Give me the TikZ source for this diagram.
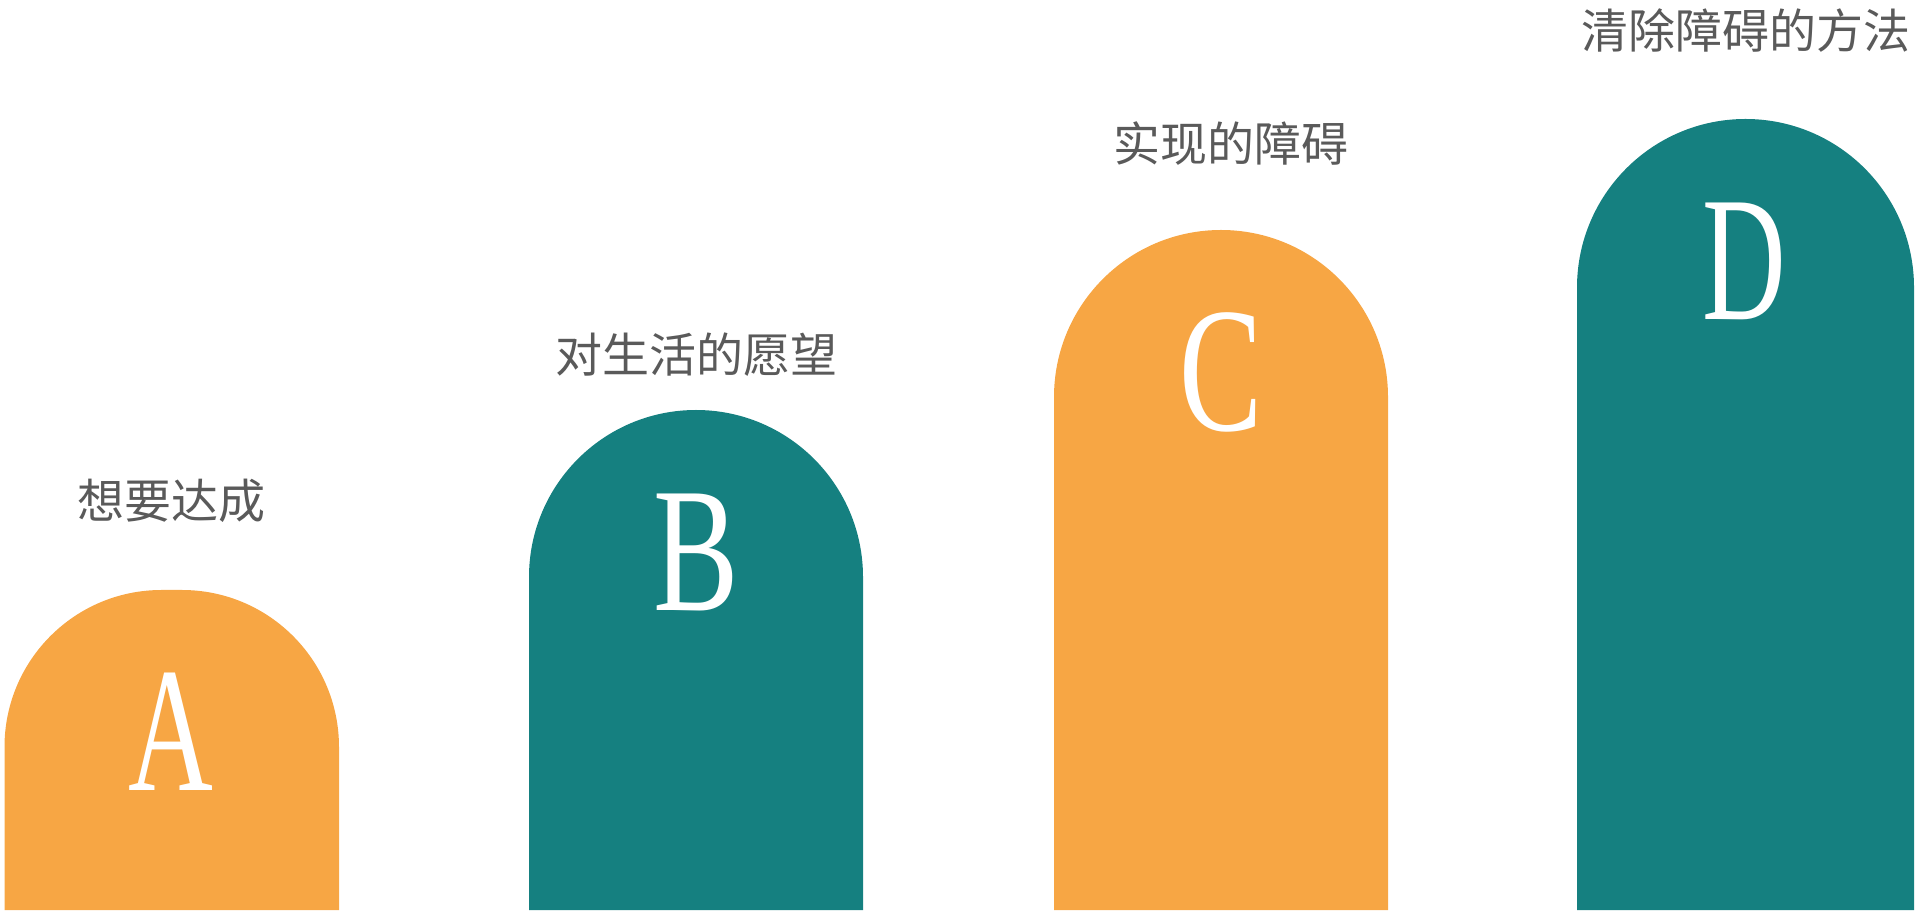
\documentclass[tikz,border=0pt]{standalone}
\usepackage{fontspec}
\newfontfamily\cjk{Noto Sans CJK SC}
\newfontfamily\lettersfont{Liberation Serif}
\definecolor{orangeA}{HTML}{F7A644}
\definecolor{tealB}{HTML}{158080}
\definecolor{labelgray}{HTML}{5A5A5A}
\begin{document}
\begin{tikzpicture}[x=1pt,y=1pt,
  letter/.style={text=white,anchor=base,inner sep=0pt,font=\lettersfont\fontsize{178}{185}\selectfont},
  caption/.style={text=labelgray,anchor=center,inner sep=0pt,font=\cjk\fontsize{47}{51}\selectfont}]
\useasboundingbox (0,0) rectangle (1921,910);
% arches
\fill[orangeA] (4.5,0) -- (4.5,163) arc[start angle=180,end angle=90,radius=157] -- (182,320) arc[start angle=90,end angle=0,radius=157] -- (339,0) -- cycle;
\fill[tealB] (529,0) -- (529,333) arc[start angle=180,end angle=0,radius=167] -- (863,0) -- cycle;
\fill[orangeA] (1054,0) -- (1054,513) arc[start angle=180,end angle=0,radius=167] -- (1388,0) -- cycle;
\fill[tealB] (1577,0) -- (1577,622.5) arc[start angle=180,end angle=0,radius=168.5] -- (1914,0) -- cycle;
% letters
\node[letter] (la) at (171,119) {\scalebox{0.66}[1]{A}};
\node[letter] (lb) at (696,299) {\scalebox{0.72}[1]{B}};
\node[letter] (lc) at (1221,479) {\scalebox{0.70}[1]{C}};
\node[letter] (ld) at (1744,590) {\scalebox{0.65}[1]{D}};
% captions
\node[caption] (ta) at (171,409) {想要达成};
\node[caption] (tb) at (696,555) {对生活的愿望};
\node[caption] (tc) at (1231,766) {实现的障碍};
\node[caption] (td) at (1746,879) {清除障碍的方法};
\end{tikzpicture}
\end{document}
